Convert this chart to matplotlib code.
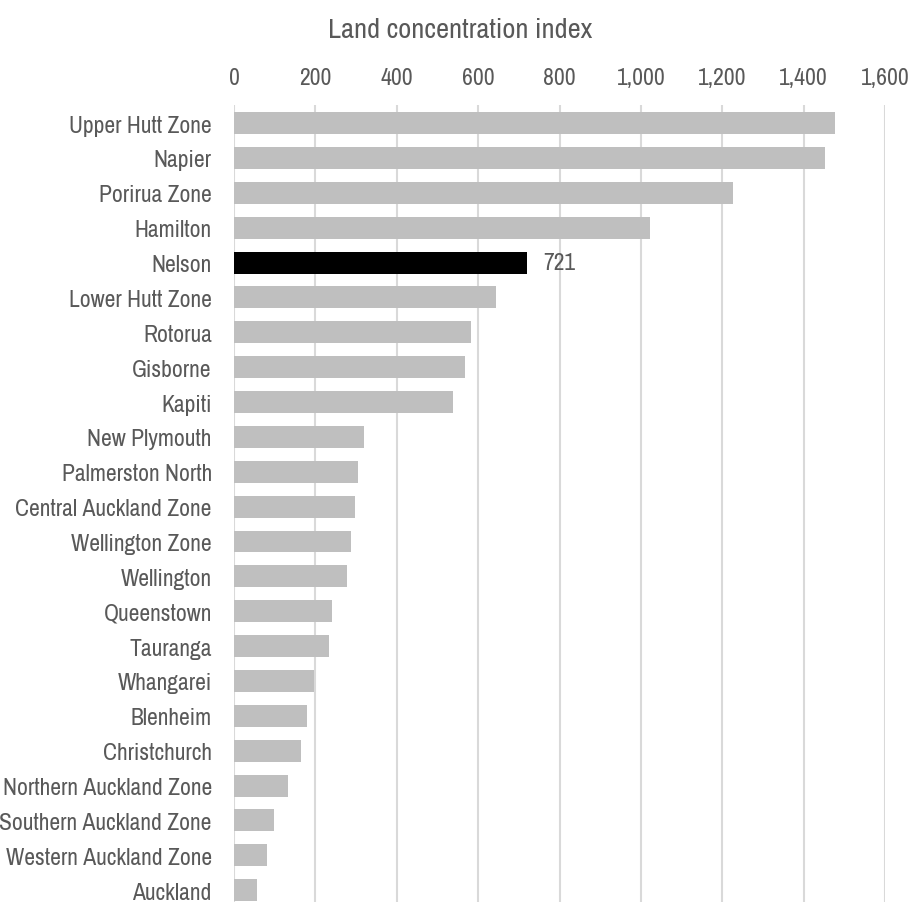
import matplotlib.pyplot as plt
from matplotlib.ticker import FuncFormatter

places = ['Upper Hutt Zone', 'Napier', 'Porirua Zone', 'Hamilton', 'Nelson',
          'Lower Hutt Zone', 'Rotorua', 'Gisborne', 'Kapiti', 'New Plymouth',
          'Palmerston North', 'Central Auckland Zone', 'Wellington Zone',
          'Wellington', 'Queenstown', 'Tauranga', 'Whangarei', 'Blenheim',
          'Christchurch', 'Northern Auckland Zone', 'Southern Auckland Zone',
          'Western Auckland Zone', 'Auckland']
index_vals = [1477, 1452, 1226, 1023, 721, 644, 582, 568, 539, 320, 305, 298,
              287, 277, 242, 233, 197, 179, 165, 133, 98, 81, 57]
highlight = 'Nelson'
x_ticks = [0, 200, 400, 600, 800, 1000, 1200, 1400, 1600]

plt.rcParams['font.family'] = ['Archivo Narrow', 'Roboto Condensed', 'Liberation Sans', 'DejaVu Sans']

text_col = '#595959'
fig = plt.figure(figsize=(9.12, 9.03), dpi=100)
ax = fig.add_axes([234 / 912, 0.0, 651 / 912, 1 - 106 / 903])

colors = ['#000000' if p == highlight else '#bfbfbf' for p in places]
ypos = list(range(len(places)))
ax.barh(ypos, index_vals, height=0.63, color=colors, zorder=3)

# value label only on the highlighted bar
for y, p, v in zip(ypos, places, index_vals):
    if p == highlight:
        ax.text(v + 38, y, '%d' % v, va='center', ha='left', fontsize=17, color=text_col)

ax.set_xlim(0, 1600)
ax.set_ylim(22.34, -0.52)
ax.set_xticks(x_ticks)
ax.xaxis.set_major_formatter(FuncFormatter(lambda v, pos: '{:,.0f}'.format(v)))
ax.xaxis.tick_top()
ax.set_yticks(ypos)
ax.set_yticklabels(places)
ax.tick_params(axis='x', length=0, pad=12, labelsize=17, labelcolor=text_col)
ax.tick_params(axis='y', length=0, pad=16, labelsize=17, labelcolor=text_col)
ax.grid(axis='x', color='#d9d9d9', linewidth=1.5, zorder=0)
ax.grid(axis='y', visible=False)
for s in ax.spines.values():
    s.set_visible(False)

fig.text(460 / 912, 1 - 31 / 903, 'Land concentration index', ha='center', va='center',
         fontsize=20.5, color=text_col)

fig.savefig('out.png', dpi=100)
